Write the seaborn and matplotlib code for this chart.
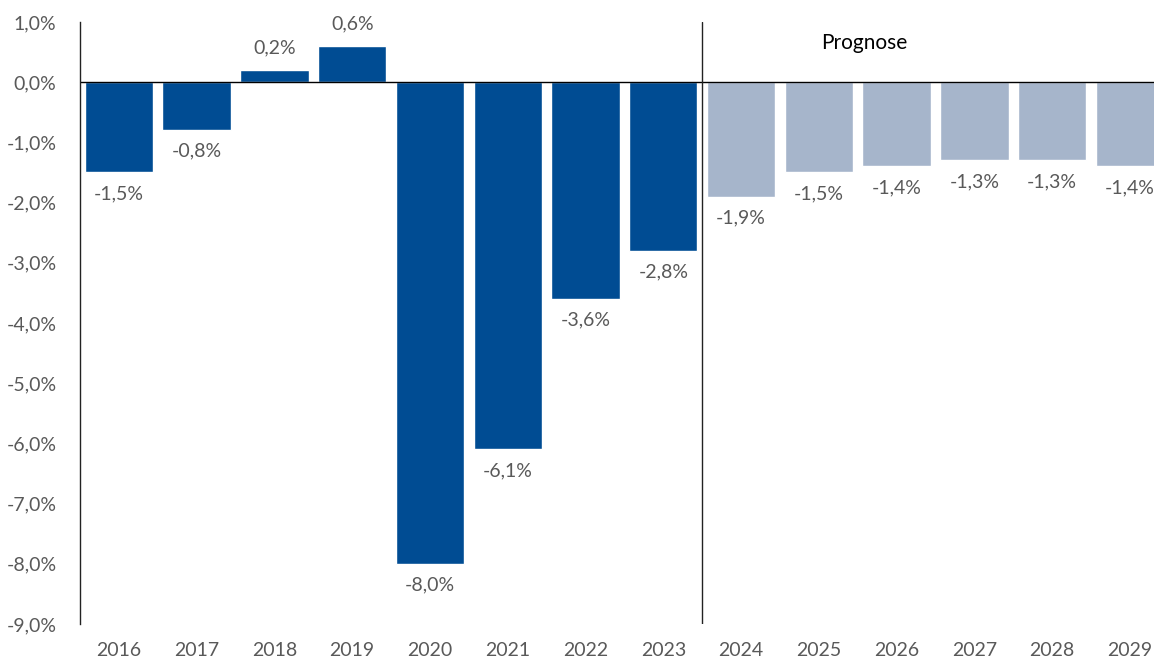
import pandas as pd
import matplotlib.pyplot as plt
import seaborn as sns

# Daten
jahre = ["2016", "2017", "2018", "2019", "2020", "2021", "2022", "2023",
         "2024", "2025", "2026", "2027", "2028", "2029"]
werte = [-1.5, -0.8, 0.2, 0.6, -8.0, -6.1, -3.6, -2.8,
         -1.9, -1.5, -1.4, -1.3, -1.3, -1.4]
art = ["Ist"] * 8 + ["Prognose"] * 6

y_ticks = [1, 0, -1, -2, -3, -4, -5, -6, -7, -8, -9]

DUNKEL = "#004C93"
HELL = "#A6B5CB"
GRAU = "#595959"

df = pd.DataFrame({"Jahr": jahre, "Wert": werte, "Art": art})

sns.set_theme(style="white")
plt.rcParams["font.family"] = ["Lato", "DejaVu Sans"]

W, H = 1154, 661
fig = plt.figure(figsize=(W / 100, H / 100), dpi=100)
ax = fig.add_axes([80 / W, 1 - 624 / H, (W - 80) / W, (624 - 22) / H])

sns.barplot(data=df, x="Jahr", y="Wert", hue="Art",
            palette={"Ist": DUNKEL, "Prognose": HELL},
            dodge=False, width=0.88, legend=False, ax=ax, saturation=1)

# Beschriftungen der Balken
for i, v in enumerate(werte):
    txt = f"{v:.1f}%".replace(".", ",")
    if v < 0:
        ax.annotate(txt, (i, v), xytext=(0, -21), textcoords="offset pixels",
                    ha="center", va="center", fontsize=14, color=GRAU)
    else:
        ax.annotate(txt, (i, v), xytext=(0, 22), textcoords="offset pixels",
                    ha="center", va="center", fontsize=14, color=GRAU)

ax.set_ylim(-9, 1)
ax.set_xlim(-0.5, 13.31)
ax.set_yticks(y_ticks)
ax.set_yticklabels([f"{t:.1f}%".replace(".", ",") for t in y_ticks])
ax.set_xlabel("")
ax.set_ylabel("")
ax.tick_params(axis="both", length=0, labelsize=14, labelcolor=GRAU)
ax.tick_params(axis="y", pad=17)
ax.tick_params(axis="x", pad=13)

for s in ["top", "right", "bottom"]:
    ax.spines[s].set_visible(False)
ax.spines["left"].set_color("#222222")
ax.spines["left"].set_linewidth(1.0)

ax.axhline(0, color="black", linewidth=1.0)
ax.axvline(7.5, color="#222222", linewidth=1.0)
ax.text(9.58, 0.65, "Prognose", ha="center", va="center", fontsize=15, color="black")

fig.savefig("out.png", dpi=100)
